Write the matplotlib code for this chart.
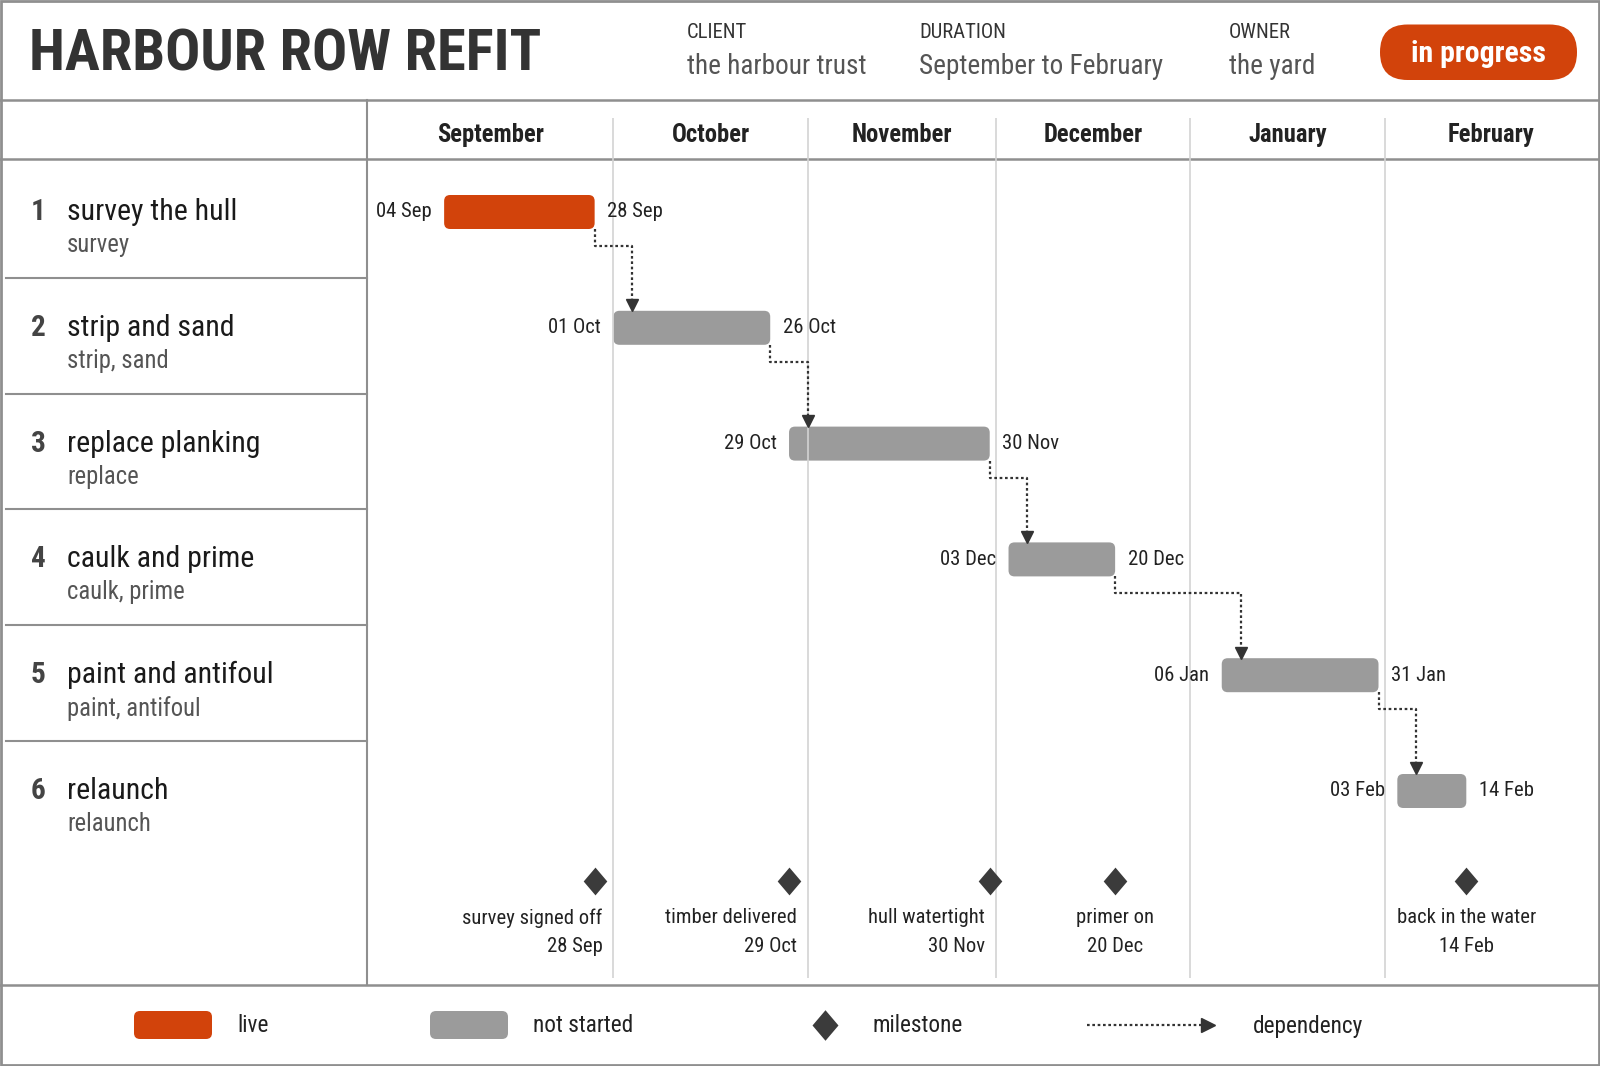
import numpy as np
import pandas as pd
import matplotlib
matplotlib.use('Agg')
import matplotlib.pyplot as plt
from matplotlib import font_manager as fm
from matplotlib.patches import FancyBboxPatch, Rectangle

# ---- data ----
title = 'HARBOUR ROW REFIT'
info_keys = ['CLIENT', 'DURATION', 'OWNER']
info_values = ['the harbour trust', 'September to February', 'the yard']
status_text = 'in progress'

task_names = ['survey the hull', 'strip and sand', 'replace planking',
              'caulk and prime', 'paint and antifoul', 'relaunch']
task_tags = ['survey', 'strip, sand', 'replace', 'caulk, prime', 'paint, antifoul', 'relaunch']
task_start = pd.to_datetime(['2024-09-04', '2024-10-01', '2024-10-29',
                             '2024-12-03', '2025-01-06', '2025-02-03'])
task_end = pd.to_datetime(['2024-09-28', '2024-10-26', '2024-11-30',
                           '2024-12-20', '2025-01-31', '2025-02-14'])
task_state = ['live', 'not started', 'not started', 'not started', 'not started', 'not started']
depends_on = [None, 0, 1, 2, 3, 4]

milestone_names = ['survey signed off', 'timber delivered', 'hull watertight',
                   'primer on', 'back in the water']
milestone_dates = pd.to_datetime(['2024-09-28', '2024-10-29', '2024-11-30',
                                  '2024-12-20', '2025-02-14'])

months = pd.date_range('2024-09-01', '2025-03-01', freq='MS')

# ---- font: look for a narrow face, fall back to Roboto ----
names = {f.name for f in fm.fontManager.ttflist}
family = None
for n in ['Liberation Sans Narrow', 'Arial Narrow', 'Roboto Condensed', 'Noto Sans Condensed',
          'Open Sans Condensed', 'DejaVu Sans Condensed', 'Noto Sans SemiCondensed']:
    if n in names:
        family = n
        break
if family is None:
    cond = [f.name for f in fm.fontManager.ttflist
            if f.stretch in ('condensed', 'semi-condensed') and 'Mono' not in f.name
            and 'CJK' not in f.name]
    if cond:
        family = cond[0]
        plt.rcParams['font.stretch'] = 'condensed'
    else:
        family = 'Roboto'
plt.rcParams['font.family'] = [family, 'DejaVu Sans']

# ---- style ----
ORANGE = '#D2430B'
GREY = '#9B9B9B'
DARK = '#3B3B3B'
LINE = '#8f8f8f'
TXT = '#222222'
state_colour = {'live': ORANGE, 'not started': GREY}

W, H = 1600, 1066
LEFT, HEAD, MONTH_BOT, FOOT = 367, 100, 159, 985
XLO, XHI = -9.3, 187.0
base = months[0]


def day(d):
    return (d - base).days


def row_mid(i):
    return 162 + i * 115.8 + 50


fig = plt.figure(figsize=(16, 10.66), dpi=100)

# scale all type so a task name has the width it has in the reference
probe = fig.text(0, 0, task_names[0], fontsize=22.5)
pw = probe.get_window_extent(fig.canvas.get_renderer()).width
probe.remove()
k = float(np.clip(170.0 / pw, 0.6, 1.15))


def fs(x):
    return x * k


bg = fig.add_axes([0, 0, 1, 1])
bg.set_xlim(0, W)
bg.set_ylim(H, 0)
bg.axis('off')

# frame and rules
bg.add_patch(Rectangle((1, 1), W - 2, H - 2, fill=False, ec=LINE, lw=2))
for y in [HEAD, MONTH_BOT, FOOT]:
    bg.plot([0, W], [y, y], color=LINE, lw=1.8)
bg.plot([LEFT, LEFT], [HEAD, FOOT], color=LINE, lw=1.5)

# header
bg.text(29, 55, title, ha='left', va='center', fontsize=fs(44), fontweight='bold', color='#333333')
for kk, v, x in zip(info_keys, info_values, [687, 919, 1229]):
    bg.text(x, 32.5, kk, ha='left', va='center', fontsize=fs(15.5), color='#333333')
    bg.text(x, 66, v, ha='left', va='center', fontsize=fs(20.5), color='#555555')
bg.add_patch(FancyBboxPatch((1380, 24.5), 197, 55.5, boxstyle='round,pad=0,rounding_size=27.5',
                            fc=ORANGE, ec='none'))
bg.text(1478.5, 53.5, status_text, ha='center', va='center', fontsize=fs(22.5), fontweight='bold',
        color='white')

# task list
for i, (name, tag) in enumerate(zip(task_names, task_tags)):
    y = row_mid(i)
    bg.text(38, y, str(i + 1), ha='center', va='center', fontsize=fs(22), fontweight='bold', color='#444444')
    bg.text(67, y, name, ha='left', va='center', fontsize=fs(22.5), color='#1a1a1a')
    bg.text(67, y + 33, tag, ha='left', va='center', fontsize=fs(18.5), color='#555555')
    if i < len(task_names) - 1:
        yl = 162 + (i + 1) * 115.8
        bg.plot([6, LEFT], [yl, yl], color=LINE, lw=1.5)

# chart area
ax = fig.add_axes([LEFT / W, 1 - FOOT / H, (W - 2 - LEFT) / W, (FOOT - HEAD) / H])
ax.set_xlim(XLO, XHI)
ax.set_ylim(FOOT, HEAD)
ax.axis('off')
ax.patch.set_alpha(0)
px_per_day = (W - 2 - LEFT) / (XHI - XLO)

inner = [day(m) for m in months[1:-1]]
for x in inner:
    ax.vlines(x, 118, 978, color='#d3d3d3', lw=1.2)
edges = [XLO] + inner + [XHI]
for m, a, b in zip(months[:-1], edges[:-1], edges[1:]):
    ax.text((a + b) / 2, 135, m.strftime('%B'), ha='center', va='center',
            fontsize=fs(18.5), fontweight='bold', color=TXT)

for i in range(len(task_names)):
    s, e = day(task_start[i]), day(task_end[i])
    y = row_mid(i)
    ax.add_patch(FancyBboxPatch((s, y - 17), e - s, 34,
                                boxstyle='round,pad=0,rounding_size=%f' % (6 / px_per_day),
                                mutation_aspect=px_per_day,
                                fc=state_colour[task_state[i]], ec='none'))
    ax.annotate(task_start[i].strftime('%d %b'), (s, y), xytext=(-9, 0), textcoords='offset points',
                ha='right', va='center', fontsize=fs(15.5), color=TXT)
    ax.annotate(task_end[i].strftime('%d %b'), (e, y), xytext=(9, 0), textcoords='offset points',
                ha='left', va='center', fontsize=fs(15.5), color=TXT)

# dependencies
for i, p in enumerate(depends_on):
    if p is None:
        continue
    x0 = day(task_end[p])
    y0 = row_mid(p) + 17
    ymid = y0 + 17
    x1 = max(x0, day(task_start[i])) + 3
    ytip = row_mid(i) - 17
    ax.plot([x0, x0, x1, x1], [y0, ymid, ymid, ytip - 9], ls=(0, (1.2, 1.2)), color='#333333', lw=1.6)
    ax.plot(x1, ytip - 5.5, marker='v', ms=9, color='#333333')

# milestones
diamond = [(0, 1), (0.85, 0), (0, -1), (-0.85, 0), (0, 1)]
for name, d in zip(milestone_names, milestone_dates):
    x = day(d)
    ax.plot(x, 881, marker=diamond, ms=20, color=DARK, mec='none')
    month_end = d + pd.offsets.MonthBegin(1)
    if (month_end - d).days <= 3:
        tx, ha = day(month_end) - 11 / px_per_day, 'right'
    else:
        tx, ha = x, 'center'
    ax.text(tx, 918, name, ha=ha, va='center', fontsize=fs(15.5), color=TXT)
    ax.text(tx, 947, d.strftime('%d %b'), ha=ha, va='center', fontsize=fs(15.5), color=TXT)

# legend
ly = 1025
for x0, lab, col in [(134, 'live', ORANGE), (430, 'not started', GREY)]:
    bg.add_patch(FancyBboxPatch((x0, ly - 14), 78, 28, boxstyle='round,pad=0,rounding_size=6',
                                fc=col, ec='none'))
    bg.text(x0 + 103, ly + 1, lab, ha='left', va='center', fontsize=fs(17.5), color=TXT)
bg.plot(825, ly, marker=diamond, ms=22, color=DARK, mec='none')
bg.text(873, ly + 1, 'milestone', ha='left', va='center', fontsize=fs(17.5), color=TXT)
bg.plot([1087, 1203], [ly, ly], ls=(0, (1.2, 1.2)), color='#333333', lw=1.6)
bg.plot(1208, ly, marker='>', ms=10, color='#333333')
bg.text(1253, ly + 1, 'dependency', ha='left', va='center', fontsize=fs(17.5), color=TXT)

fig.savefig('out.png', dpi=100)
